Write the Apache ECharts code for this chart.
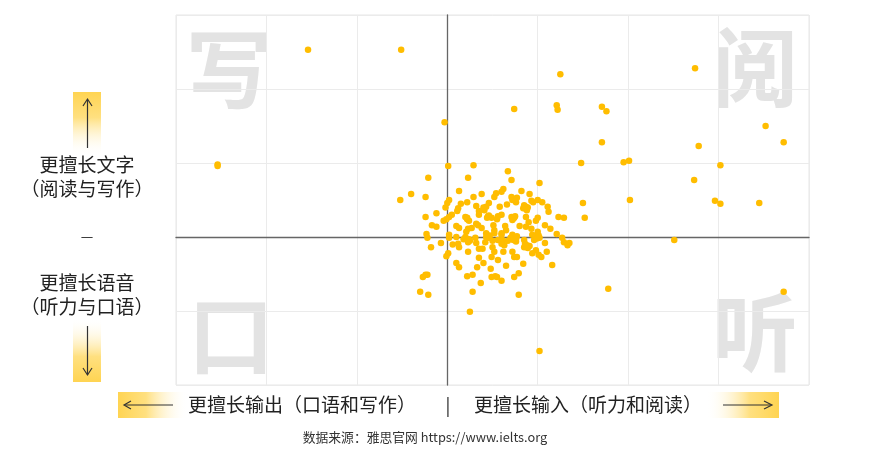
<!DOCTYPE html>
<html>
<head>
<meta charset="utf-8">
<script src="https://cdn.jsdelivr.net/npm/echarts@6/dist/echarts.min.js"></script>
<style>
html,body{margin:0;padding:0;background:#fff;}
#chart{width:879px;height:453px;}
</style>
</head>
<body>
<div id="chart"></div>
<script>
// X: 输出(-) ↔ 输入(+) ; Y: 语音(-) ↔ 文字(+)
const outerPoints = [
  [-1.54,2.53],[-0.51,2.53],[-2.54,0.96],[-2.54,0.98],[1.25,2.20],[2.74,2.28],[0.74,1.73],
  [1.21,1.78],[1.22,1.72],[1.71,1.76],[1.76,1.70],[-0.03,1.55],[3.52,1.50],[1.71,1.28],
  [2.78,1.23],[3.72,1.28],[1.48,1.00],[1.95,1.01],[2.01,1.03],[3.02,0.97],[2.73,0.77],
  [2.02,0.50],[2.96,0.49],[3.02,0.45],[3.45,0.46],[1.50,0.46],[1.52,0.26],[2.51,-0.04],
  [1.78,-0.70],[3.72,-0.74],[1.02,-1.54],[0.25,-1.01]
];
const upperCluster = [
  [0.01,0.96],[0.29,0.97],[-0.21,0.80],[0.23,0.80],[0.67,0.89],[0.71,0.77],[1.02,0.73],
  [-0.52,0.50],[-0.40,0.58],[-0.24,0.54],[0.13,0.62],[0.02,0.50],[0.00,0.46],[0.62,0.65],
  [0.60,0.61],[0.54,0.59],[0.29,0.54],[0.22,0.47],[0.38,0.58],[0.46,0.46],[0.32,0.42],
  [0.71,0.54],[0.76,0.47],[0.91,0.58],[0.72,0.50],[0.84,0.39],[0.88,0.36],[0.87,0.41],
  [1.00,0.50],[1.05,0.47],[1.11,0.41],[1.12,0.34],[0.12,0.39],[0.11,0.35],[0.35,0.35],
  [0.43,0.41],[-0.12,0.32],[-0.24,0.27],[-0.04,0.22],[-0.01,0.24],[0.02,0.27],[0.22,0.26],
  [0.24,0.22],[0.32,0.18],[0.45,0.28],[0.49,0.26],[0.55,0.24],[0.74,0.26],[0.72,0.23],
  [0.87,0.27],[0.90,0.20],[0.98,0.22],[1.00,0.26],[1.23,0.27],[1.29,0.26],[-0.17,0.16],
  [-0.12,0.14],[0.10,0.15],[0.13,0.12],[0.23,0.11],[0.34,0.16],[0.38,0.12],[0.51,0.16],
  [0.52,0.09],[0.64,0.15],[0.65,0.09],[0.60,0.05],[0.80,0.15],[0.93,0.11],[0.87,0.14],
  [1.08,0.16],[1.14,0.11],[0.41,0.36],[0.52,0.54],[0.21,0.07],[0.43,0.05],[0.77,0.53],
  [0.58,0.41],[1.00,0.07],[0.60,0.30],[0.35,0.30],
  [0.73,0.25],[0.75,0.28],[0.71,0.27],[0.86,0.39],[0.89,0.40],[0.85,0.43],[0.46,0.29],
  [0.44,0.26],[0.22,0.24],[0.20,0.27],[0.93,0.49],[0.95,0.47],[0.40,0.40],[0.56,0.28],
  [0.05,0.30],[-0.02,0.40],[0.15,0.45],[0.66,0.44],[0.82,0.62],[0.27,0.12]
];
const lowerCluster = [
  [-0.23,0.04],[-0.22,-0.01],[0.02,0.03],[0.02,-0.01],[0.10,0.00],[0.20,0.00],[0.24,-0.03],
  [0.31,-0.01],[0.43,0.00],[0.46,-0.01],[0.52,0.05],[0.60,0.03],[0.61,-0.04],[0.72,0.03],
  [0.76,-0.03],[0.70,-0.01],[0.85,-0.04],[0.94,0.03],[0.98,0.00],[1.02,-0.01],[1.21,0.04],
  [1.27,-0.01],[1.29,-0.07],[1.33,-0.11],[1.35,-0.08],[-0.18,-0.14],[-0.07,-0.08],[0.12,-0.09],
  [0.13,-0.14],[0.23,-0.07],[0.35,-0.16],[0.39,-0.16],[0.32,-0.08],[0.42,-0.07],[0.50,-0.14],
  [0.52,-0.20],[0.49,-0.27],[0.60,-0.09],[0.63,-0.11],[0.72,-0.20],[0.74,-0.27],[0.77,-0.27],
  [0.85,-0.14],[0.88,-0.11],[0.98,-0.18],[1.01,-0.24],[1.04,-0.27],[1.08,-0.08],[0.01,-0.22],
  [-0.01,-0.26],[0.23,-0.20],[0.10,-0.35],[0.13,-0.41],[0.33,-0.41],[0.40,-0.35],[0.48,-0.43],
  [0.56,-0.31],[0.65,-0.39],[0.84,-0.36],[1.16,-0.38],[-0.24,-0.51],[-0.22,-0.51],[-0.27,-0.54],
  [0.22,-0.53],[0.28,-0.51],[0.49,-0.54],[0.53,-0.53],[0.55,-0.54],[0.60,-0.59],[0.74,-0.54],
  [0.79,-0.49],[0.37,-0.62],[-0.30,-0.74],[-0.21,-0.78],[0.28,-0.74],[0.79,-0.78],
  [0.91,-0.12],[0.67,-0.05],[0.56,-0.04],[0.76,-0.06],
  [0.74,-0.01],[0.77,0.01],[0.73,-0.04],[0.99,-0.02],[1.01,0.02],[0.96,-0.04],[0.87,-0.12],
  [0.89,-0.15],[0.86,-0.09],[0.50,-0.05],[0.47,0.02],[0.25,-0.05],[0.18,-0.03],[0.62,-0.20],
  [0.94,-0.22],[1.10,-0.20],[0.06,-0.10],[0.35,-0.28]
];
const cornerChars = ['写','阅','口','听'];
const leftLabels = ['更擅长文字','（阅读与写作）','—','更擅长语音','（听力与口语）'];
const bottomLabels = ['更擅长输出（口语和写作）','|','更擅长输入（听力和阅读）'];
const sourceText = '数据来源：雅思官网 https://www.ielts.org';

const chart = echarts.init(document.getElementById('chart'), null, {renderer:'canvas'});
const FONT = '"Noto Sans CJK SC","Noto Sans",sans-serif';
const yellow = '#FFD452';
const fade = 'rgba(255,255,255,0)';
function grad(x0,y0,x1,y1){
  return new echarts.graphic.LinearGradient(x0,y0,x1,y1,[
    {offset:0,color:yellow},{offset:0.4,color:'#FFE080'},{offset:1,color:fade}]);
}
function txt(text,x,y,size,color,align,weight){
  return {type:'text',x:x,y:y,silent:true,
    style:{text:text,fontSize:size,fontFamily:FONT,fontWeight:weight||'normal',
      fill:color,align:align||'center',verticalAlign:'middle'}};
}
const cornerPos = [[229,69],[755,67],[231,335],[755,332]];
const graphics = [];
cornerChars.forEach((c,i)=>{
  const g = txt(c,cornerPos[i][0],cornerPos[i][1],86,'#e3e3e3','center','bold');
  g.z = -1;
  graphics.push(g);
});
// left arrows boxes
graphics.push({type:'rect',shape:{x:73,y:92,width:28,height:64},style:{fill:grad(0,0,0,1)},silent:true});
graphics.push({type:'rect',shape:{x:73,y:318,width:28,height:64},style:{fill:grad(0,1,0,0)},silent:true});
graphics.push({type:'polyline',shape:{points:[[83,106],[87.5,99],[92,106]]},style:{stroke:'#333',lineWidth:1.2,fill:null},silent:true});
graphics.push({type:'line',shape:{x1:87.5,y1:100,x2:87.5,y2:148},style:{stroke:'#333',lineWidth:1.2},silent:true});
graphics.push({type:'line',shape:{x1:87.5,y1:326,x2:87.5,y2:375},style:{stroke:'#333',lineWidth:1.2},silent:true});
graphics.push({type:'polyline',shape:{points:[[83,368],[87.5,375],[92,368]]},style:{stroke:'#333',lineWidth:1.2,fill:null},silent:true});
const leftY = [165,189,236,283,307];
leftLabels.forEach((t,i)=>{
  graphics.push(txt(t,87,leftY[i],i===2?14:19,'#222','center'));
});
// bottom bands
graphics.push({type:'rect',shape:{x:118,y:392,width:70,height:26},style:{fill:grad(0,0,1,0)},silent:true});
graphics.push({type:'rect',shape:{x:706,y:392,width:73,height:26},style:{fill:grad(1,0,0,0)},silent:true});
graphics.push({type:'polyline',shape:{points:[[131,401],[124,405],[131,409]]},style:{stroke:'#333',lineWidth:1.2,fill:null},silent:true});
graphics.push({type:'line',shape:{x1:125,y1:405,x2:173,y2:405},style:{stroke:'#333',lineWidth:1.2},silent:true});
graphics.push({type:'line',shape:{x1:723,y1:405,x2:771,y2:405},style:{stroke:'#333',lineWidth:1.2},silent:true});
graphics.push({type:'polyline',shape:{points:[[764,401],[772,405],[764,409]]},style:{stroke:'#333',lineWidth:1.2,fill:null},silent:true});
graphics.push(txt(bottomLabels[0],188,405,19,'#222','left'));
graphics.push(txt(bottomLabels[1],448,405,18,'#222','center'));
graphics.push(txt(bottomLabels[2],474,405,19,'#222','left'));
graphics.push(txt(sourceText,425,437,12.8,'#333','center'));

const option = {
  animation:false,
  backgroundColor:'#fff',
  grid:{left:176,top:15,width:633,height:370,show:true,borderColor:'#e6e6e6',borderWidth:1,backgroundColor:'transparent'},
  xAxis:{type:'value',min:-3,max:4,interval:1,
    axisLabel:{show:false},axisTick:{show:false},
    axisLine:{show:true,onZero:true,lineStyle:{color:'#666',width:1.3}},
    splitLine:{show:true,lineStyle:{color:'#ebebeb',width:1}}},
  yAxis:{type:'value',min:-2,max:3,interval:1,
    axisLabel:{show:false},axisTick:{show:false},
    axisLine:{show:true,onZero:true,lineStyle:{color:'#666',width:1.3}},
    splitLine:{show:true,lineStyle:{color:'#ebebeb',width:1}}},
  graphic:{elements:graphics},
  series:[{
    type:'scatter',
    symbolSize:6.5,
    itemStyle:{color:'#FFBD00',opacity:1},
    data:[].concat(outerPoints,upperCluster,lowerCluster),
    z:5
  }]
};
chart.setOption(option);
</script>
</body>
</html>
